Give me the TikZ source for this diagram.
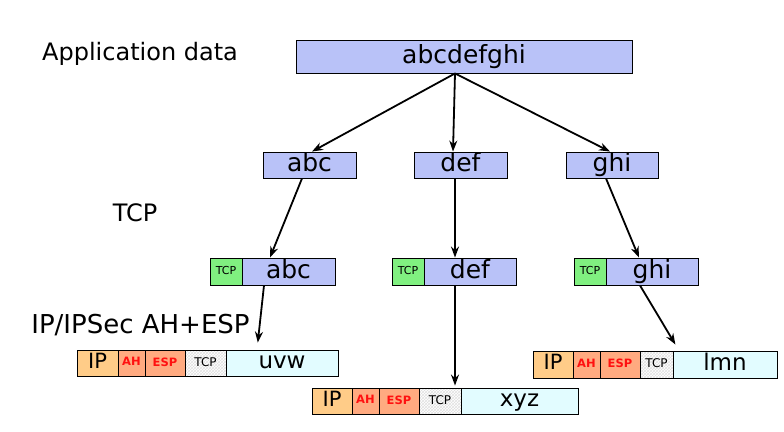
\documentclass[tikz,border=0pt]{standalone}
\usepackage{fontspec}
\setmainfont{DejaVu Sans}
\usetikzlibrary{patterns,arrows.meta}
\definecolor{boxblue}{HTML}{B9C2F8}
\definecolor{tcpgreen}{HTML}{80F080}
\definecolor{iporange}{HTML}{FFCC88}
\definecolor{ahsalmon}{HTML}{FFAA80}
\definecolor{paycyan}{HTML}{E2FCFF}
\definecolor{hdrred}{HTML}{FF1010}
\begin{document}
\begin{tikzpicture}[x=1pt,y=-1pt,
  cell/.style={draw=black,line width=0.9pt,rectangle,inner sep=0pt,anchor=center,execute at begin node={\vphantom{Xg}}},
  blue/.style={cell,fill=boxblue,font=\fontsize{25}{25}\selectfont},
  green/.style={cell,fill=tcpgreen,font=\fontsize{11}{11}\selectfont},
  ipc/.style={cell,fill=iporange,font=\fontsize{21}{21}\selectfont},
  hdr/.style={cell,fill=ahsalmon,text=hdrred,font=\bfseries\fontsize{11.5}{12}\selectfont},
  tcpc/.style={cell,pattern=crosshatch,pattern color=black!12,font=\fontsize{12}{12}\selectfont},
  pay/.style={cell,fill=paycyan,font=\fontsize{23}{23}\selectfont},
  lbl/.style={font=\fontsize{24}{24}\selectfont,inner sep=0pt},
  arr/.style={-{Stealth[length=11pt,width=8pt]},line width=1.8pt}
]
\useasboundingbox (0,0) rectangle (784,431);
\node[lbl] (appl) at (140,54) {Application data};
\node[lbl] (tcpl) at (135,213) {TCP};
\node[lbl,font=\fontsize{26}{26}\selectfont] (ipl) at (140.5,325) {IP/IPSec AH+ESP};

\node[blue,minimum width=336pt,minimum height=33pt] (top) at (464,56.5) {abcdefghi};
\node[blue,minimum width=93pt,minimum height=26pt] (abc) at (309.5,165) {abc};
\node[blue,minimum width=93pt,minimum height=26pt] (def) at (460.5,165) {def};
\node[blue,minimum width=92pt,minimum height=26pt] (ghi) at (612,165) {ghi};

\node[green,minimum width=32pt,minimum height=27pt] (ta) at (226,271.5) {TCP};
\node[blue,minimum width=93pt,minimum height=27pt] (ba) at (288.5,271.5) {abc};
\node[green,minimum width=32pt,minimum height=27pt] (td) at (408,271.5) {TCP};
\node[blue,minimum width=92pt,minimum height=27pt] (bd) at (470,271.5) {def};
\node[green,minimum width=32pt,minimum height=27pt] (tg) at (590,271.5) {TCP};
\node[blue,minimum width=92pt,minimum height=27pt] (bg) at (652,271.5) {ghi};

% packet uvw
\node[ipc,minimum width=41pt,minimum height=26pt] (ip1) at (97.5,363) {IP};
\node[hdr,minimum width=27pt,minimum height=26pt] (ah1) at (131.5,363) {AH};
\node[hdr,minimum width=40pt,minimum height=26pt] (esp1) at (165,363) {ESP};
\node[tcpc,minimum width=41pt,minimum height=26pt] (tcp1) at (205.5,363) {TCP};
\node[pay,minimum width=112pt,minimum height=26pt] (uvw) at (282,363) {uvw};
% packet xyz
\node[ipc,minimum width=40pt,minimum height=26pt] (ip2) at (332,401) {IP};
\node[hdr,minimum width=27pt,minimum height=26pt] (ah2) at (365.5,401) {AH};
\node[hdr,minimum width=40pt,minimum height=26pt] (esp2) at (399,401) {ESP};
\node[tcpc,minimum width=42pt,minimum height=26pt] (tcp2) at (440,401) {TCP};
\node[pay,minimum width=117pt,minimum height=26pt] (xyz) at (519.5,401) {xyz};
% packet lmn
\node[ipc,minimum width=40pt,minimum height=27pt] (ip3) at (553,364.5) {IP};
\node[hdr,minimum width=27pt,minimum height=27pt] (ah3) at (586.5,364.5) {AH};
\node[hdr,minimum width=40pt,minimum height=27pt] (esp3) at (620,364.5) {ESP};
\node[tcpc,minimum width=33pt,minimum height=27pt] (tcp3) at (656.5,364.5) {TCP};
\node[pay,minimum width=104pt,minimum height=27pt] (lmn) at (725,364.5) {lmn};

\draw[arr] ([xshift=-9pt]top.south) -- ([xshift=2.5pt]abc.north);
\draw[arr] ([xshift=-9pt]top.south) -- ([xshift=-7.5pt]def.north);
\draw[arr] ([xshift=-9pt]top.south) -- ([xshift=-2pt]ghi.north);

\draw[arr] ([xshift=-7.5pt]abc.south) -- ([xshift=-18.5pt]ba.north);
\draw[arr] ([xshift=-5.5pt]def.south) -- ([xshift=-15pt]bd.north);
\draw[arr] ([xshift=-6pt]ghi.south) -- ([xshift=-13pt]bg.north);

\draw[arr,shorten >=7pt] ([xshift=-24.5pt]ba.south) -- ([xshift=-25pt]uvw.north);
\draw[arr,shorten >=2pt] ([xshift=-15pt]bd.south) -- ([xshift=15pt]tcp2.north);
\draw[arr,shorten >=7pt] ([xshift=-12pt]bg.south) -- ([xshift=-46pt]lmn.north);
\end{tikzpicture}
\end{document}
